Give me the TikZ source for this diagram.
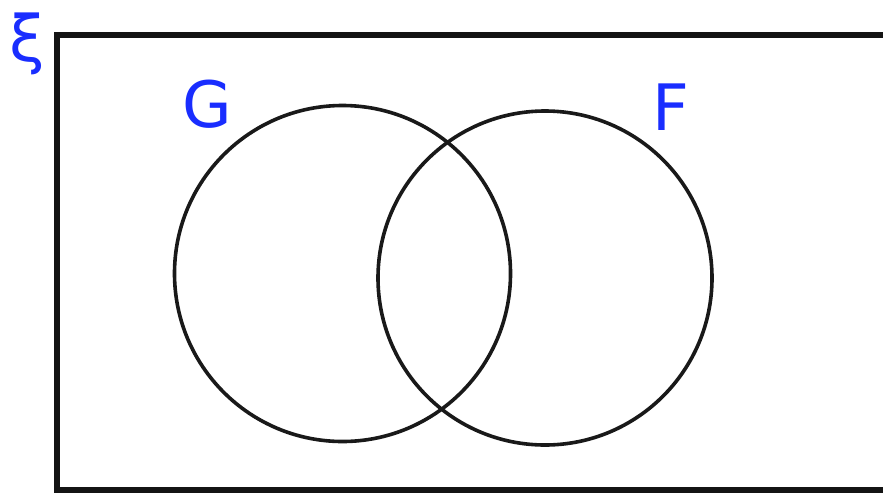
\documentclass[tikz,border=0pt]{standalone}
\usepackage{fontspec}
\setmainfont{DejaVu Sans}
\begin{document}
\begin{tikzpicture}[x=1pt,y=-1pt,
  setline/.style={line width=3.6pt,black!90},
  lbl/.style={text=setblue,inner sep=0pt,font=\fontsize{64}{64}\selectfont}]
\definecolor{setblue}{RGB}{25,45,255}
\useasboundingbox (0,0) rectangle (883,493);
\clip (0,0) rectangle (883,493);
\fill[white] (0,0) rectangle (883,493);
\draw[line width=5.5pt,black!92] (57,35) rectangle (910,490);
\node[setline,circle,minimum size=336pt,inner sep=0pt,draw] (G) at (342.5,273.5) {};
\node[setline,circle,minimum size=334pt,inner sep=0pt,draw] (F) at (545,278) {};
\node[lbl] (xi) at (27,44) {ξ};
\node[lbl] (gl) at (207,104) {G};
\node[lbl] (fl) at (671,107) {F};
\end{tikzpicture}
\end{document}
